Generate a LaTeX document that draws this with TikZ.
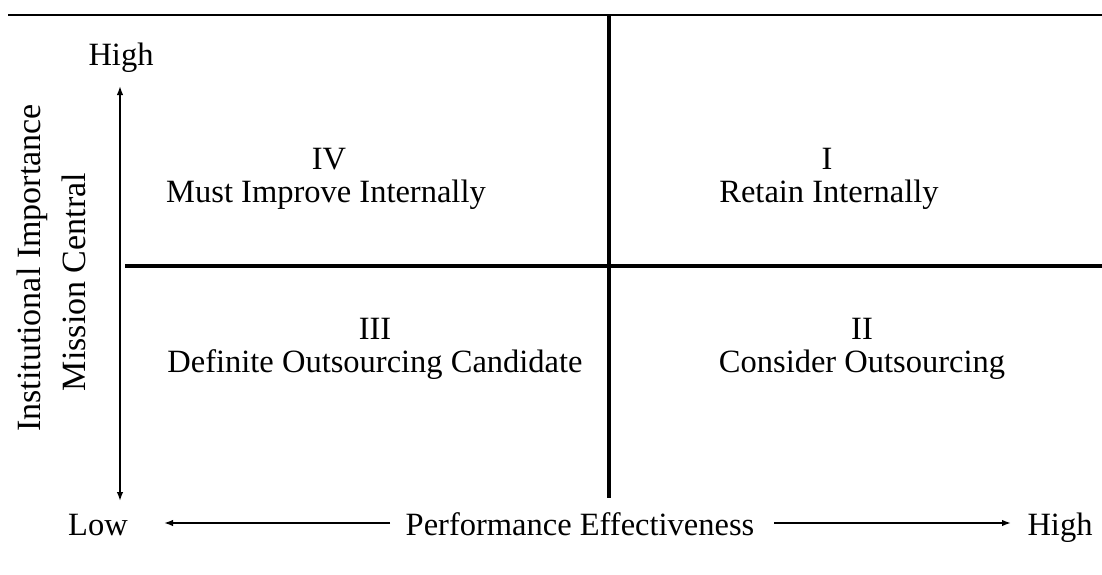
\documentclass[tikz,border=0pt]{standalone}
\usepackage{fontspec}
\setmainfont{Liberation Serif}
\usetikzlibrary{arrows.meta}
\begin{document}
\begin{tikzpicture}[x=1pt,y=-1pt,
  lbl/.style={inner sep=0pt,anchor=base,font=\fontsize{32.5}{38}\selectfont},
  side/.style={inner sep=0pt,anchor=center,rotate=90,font=\fontsize{34}{40}\selectfont},
  grid/.style={line width=3.2pt},
  axis/.style={line width=1.6pt,-{Latex[length=9pt,width=6.5pt]}}]
\useasboundingbox (0,0) rectangle (1102,574);
% frame lines
\coordinate (tl) at (8,15);
\coordinate (tr) at (1102,15);
\draw[line width=2.4pt] (tl) -- (tr);
\coordinate (vt) at (609,15);
\coordinate (vb) at (609,498);
\draw[grid] (vt) -- (vb);
\coordinate (hl) at (125,266);
\coordinate (hr) at (1102,266);
\draw[grid] (hl) -- (hr);
% vertical axis
\node[lbl] (high1) at (121,65) {High};
\node[lbl] (low) at (98,535) {Low};
\coordinate (vmid) at (120,300);
\coordinate (vtop) at (120,86);
\coordinate (vbot) at (120,501);
\draw[axis] (vmid) -- (vtop);
\draw[axis] (vmid) -- (vbot);
\node[side] (inst) at (32,268) {Institutional Importance};
\node[side] (miss) at (74,282) {Mission Central};
% horizontal axis
\node[lbl] (perf) at (580,535) {Performance Effectiveness};
\node[lbl] (high2) at (1060,535) {High};
\coordinate (lstart) at (390,523);
\coordinate (lend) at (164,523);
\coordinate (rstart) at (774,523);
\coordinate (rend) at (1011,523);
\draw[axis] (lstart) -- (lend);
\draw[axis] (rstart) -- (rend);
% quadrants
\node[lbl] (q4n) at (329,169) {IV};
\node[lbl] (q4t) at (326,202) {Must Improve Internally};
\node[lbl] (q1n) at (827,169) {I};
\node[lbl] (q1t) at (829,202) {Retain Internally};
\node[lbl] (q3n) at (375,339) {III};
\node[lbl] (q3t) at (375,372) {Definite Outsourcing Candidate};
\node[lbl] (q2n) at (862,339) {II};
\node[lbl] (q2t) at (862,372) {Consider Outsourcing};
\end{tikzpicture}
\end{document}
